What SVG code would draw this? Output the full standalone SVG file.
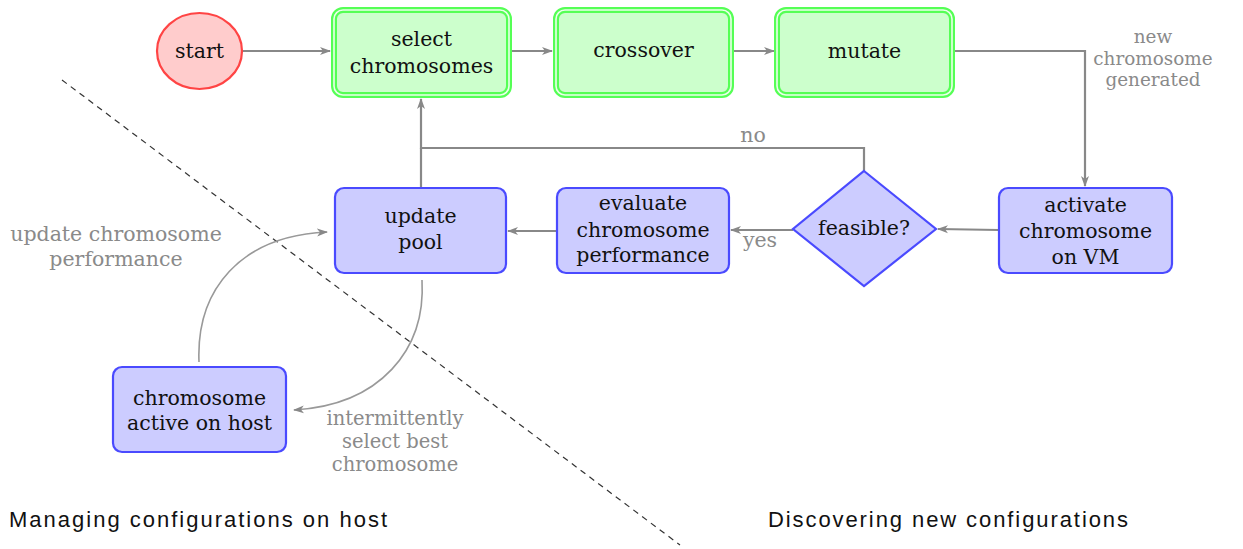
<svg xmlns="http://www.w3.org/2000/svg" width="1243" height="549" viewBox="0 0 1243 549">
<style>
.t{font-family:"DejaVu Serif","Liberation Serif",serif;font-size:20.5px;fill:#111;text-anchor:middle}
.g{font-family:"DejaVu Serif","Liberation Serif",serif;font-size:20.5px;fill:#8a8a8a;text-anchor:middle}
.gs{font-size:18.4px}
.gm{font-size:19.5px}
.s{font-family:"Liberation Sans",Arial,sans-serif;font-size:22px;fill:#111}
.gb{fill:#ccffcc;stroke:#55ff55;stroke-width:6}
.gi{fill:none;stroke:#eaffea;stroke-width:1.6}
.bb{fill:#ccccff;stroke:#4a4aff;stroke-width:2.2}
.e{fill:none;stroke:#888;stroke-width:2.2}
.c{fill:none;stroke:#999;stroke-width:1.6}
</style>
<defs>
<marker id="ah" markerWidth="12" markerHeight="10" refX="10" refY="5" orient="auto" markerUnits="userSpaceOnUse">
<path d="M0,1 L11,5 L0,9 L3,5 Z" fill="#888"/>
</marker>
</defs>
<line x1="62" y1="80" x2="680" y2="545" stroke="#333" stroke-width="1.2" stroke-dasharray="6,5"/>
<g id="connectors">
<line class="e" x1="242" y1="51" x2="330" y2="51" marker-end="url(#ah)"/>
<line class="e" x1="511" y1="51" x2="552" y2="51" marker-end="url(#ah)"/>
<line class="e" x1="733" y1="51" x2="774" y2="51" marker-end="url(#ah)"/>
<polyline class="e" points="954,51 1085,51 1085,186" marker-end="url(#ah)"/>
<line class="e" x1="999" y1="230" x2="938" y2="229" marker-end="url(#ah)"/>
<line class="e" x1="793" y1="230" x2="731" y2="230" marker-end="url(#ah)"/>
<line class="e" x1="557" y1="231" x2="508" y2="231" marker-end="url(#ah)"/>
<polyline class="e" points="864,171 864,148 421,148 421,99" marker-end="url(#ah)"/>
<line class="e" x1="421" y1="188" x2="421" y2="148"/>
<path class="c" d="M199,362 C196,290 240,236 327,232" marker-end="url(#ah)"/>
<path class="c" d="M422,280 C426,350 380,405 294,410" marker-end="url(#ah)"/>
<text class="g gs" x="1153" y="43">new</text>
<text class="g gs" x="1153" y="64.5">chromosome</text>
<text class="g gs" x="1153" y="86">generated</text>
<text class="g" x="753" y="142">no</text>
<text class="g" x="760" y="247">yes</text>
<text class="g" x="116" y="241">update chromosome</text>
<text class="g" x="116" y="266">performance</text>
<text class="g gm" x="395" y="425">intermittently</text>
<text class="g gm" x="395" y="448">select best</text>
<text class="g gm" x="395" y="471">chromosome</text>
</g>
<g id="start">
<ellipse cx="199.5" cy="51" rx="42.5" ry="38" fill="#ffcccc" stroke="#ff4444" stroke-width="2.2"/>
<text class="t" x="199.5" y="58">start</text>
</g>
<g id="select">
<rect class="gb" x="334" y="10" width="175" height="85" rx="9"/>
<rect class="gi" x="334" y="10" width="175" height="85" rx="9"/>
<text class="t" x="421.5" y="46">select</text>
<text class="t" x="421.5" y="73">chromosomes</text>
</g>
<g id="crossover">
<rect class="gb" x="556" y="10" width="175" height="85" rx="9"/>
<rect class="gi" x="556" y="10" width="175" height="85" rx="9"/>
<text class="t" x="643.5" y="57">crossover</text>
</g>
<g id="mutate">
<rect class="gb" x="777" y="10" width="175" height="85" rx="9"/>
<rect class="gi" x="777" y="10" width="175" height="85" rx="9"/>
<text class="t" x="864.5" y="58">mutate</text>
</g>
<g id="activate">
<rect class="bb" x="999" y="188" width="173" height="85" rx="9"/>
<text class="t" x="1085.5" y="212">activate</text>
<text class="t" x="1085.5" y="238">chromosome</text>
<text class="t" x="1085.5" y="264">on VM</text>
</g>
<g id="feasible">
<polygon class="bb" points="864,171 936,229 864,286 793,229"/>
<text class="t" x="864" y="235">feasible?</text>
</g>
<g id="evaluate">
<rect class="bb" x="557" y="188" width="172" height="85" rx="9"/>
<text class="t" x="643" y="210">evaluate</text>
<text class="t" x="643" y="237">chromosome</text>
<text class="t" x="643" y="262">performance</text>
</g>
<g id="update">
<rect class="bb" x="335" y="188" width="171" height="85" rx="9"/>
<text class="t" x="420.5" y="223">update</text>
<text class="t" x="420.5" y="249">pool</text>
</g>
<g id="host">
<rect class="bb" x="113" y="367" width="173" height="85" rx="9"/>
<text class="t" x="199.5" y="405">chromosome</text>
<text class="t" x="199.5" y="430">active on host</text>
</g>
<g id="labels">
<text class="s" x="9" y="527" textLength="378" lengthAdjust="spacing">Managing configurations on host</text>
<text class="s" x="768" y="527" textLength="360" lengthAdjust="spacing">Discovering new configurations</text>
</g>
</svg>
